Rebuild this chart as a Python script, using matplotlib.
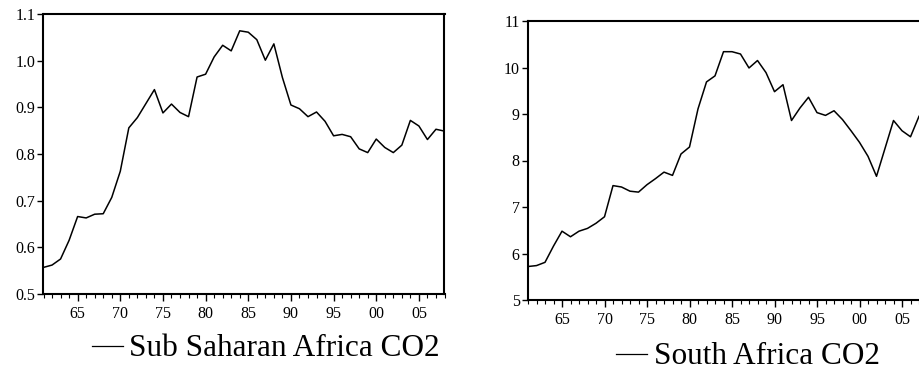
import matplotlib
matplotlib.use("Agg")
import matplotlib.pyplot as plt
from matplotlib.ticker import MultipleLocator, FuncFormatter

plt.rcParams['font.family'] = ['Liberation Serif', 'DejaVu Serif']

years_ssa = list(range(1961, 2009))
ssa_co2 = [0.557, 0.562, 0.575, 0.615, 0.666, 0.663, 0.671, 0.672, 0.707, 0.763,
           0.856, 0.878, 0.908, 0.938, 0.888, 0.907, 0.889, 0.880, 0.965, 0.971,
           1.008, 1.033, 1.021, 1.064, 1.061, 1.045, 1.001, 1.036, 0.964, 0.905,
           0.897, 0.880, 0.890, 0.870, 0.839, 0.842, 0.837, 0.811, 0.803, 0.832,
           0.814, 0.803, 0.819, 0.872, 0.860, 0.831, 0.853, 0.849]

years_za = list(range(1961, 2008))
za_co2 = [5.72, 5.74, 5.81, 6.16, 6.48, 6.36, 6.48, 6.54, 6.65, 6.79,
          7.46, 7.43, 7.34, 7.32, 7.48, 7.61, 7.75, 7.68, 8.14, 8.29,
          9.11, 9.69, 9.82, 10.34, 10.34, 10.29, 9.99, 10.15, 9.89, 9.48,
          9.63, 8.86, 9.13, 9.36, 9.03, 8.97, 9.07, 8.88, 8.64, 8.39,
          8.09, 7.66, 8.26, 8.86, 8.64, 8.51, 8.95]

ssa_ticks = [0.5, 0.6, 0.7, 0.8, 0.9, 1.0, 1.1]
za_ticks = [5, 6, 7, 8, 9, 10, 11]
ssa_label = "Sub Saharan Africa CO2"
za_label = "South Africa CO2"

fig = plt.figure(figsize=(9.2, 3.76), dpi=100)
ax1 = fig.add_axes([43.5/920, 1-294/376, 401/920, 280/376])
ax2 = fig.add_axes([528/920, 1-300/376, 399.5/920, 279/376])


def style(ax, yticks, fmt):
    ax.set_xlim(1961, 2008)
    ax.set_ylim(yticks[0], yticks[-1])
    ax.set_yticks(yticks)
    ax.yaxis.set_major_formatter(FuncFormatter(lambda v, p: fmt % v))
    ax.xaxis.set_major_locator(MultipleLocator(5))
    ax.xaxis.set_minor_locator(MultipleLocator(1))
    ax.xaxis.set_major_formatter(FuncFormatter(lambda v, p: "%02d" % (int(round(v)) % 100)))
    ax.tick_params(axis='x', which='major', direction='out', length=5, width=1, pad=4, labelsize=11.5)
    ax.tick_params(axis='x', which='minor', direction='out', length=3, width=0.8)
    ax.tick_params(axis='y', which='major', direction='out', length=4, width=1, pad=2, labelsize=11.5)
    for s in ax.spines.values():
        s.set_linewidth(1.5)


ax1.plot(years_ssa, ssa_co2, color='black', lw=1.1, label=ssa_label)
style(ax1, ssa_ticks, "%.1f")
ax2.plot(years_za, za_co2, color='black', lw=1.1, label=za_label)
style(ax2, za_ticks, "%d")

leg1 = ax1.legend(loc='center', bbox_to_anchor=(266/920, 1-349/376),
                  bbox_transform=fig.transFigure, frameon=False, fontsize=22.5,
                  handlelength=1.0, handletextpad=0.2, borderpad=0, borderaxespad=0)
leg2 = ax2.legend(loc='center', bbox_to_anchor=(748/920, 1-357/376),
                  bbox_transform=fig.transFigure, frameon=False, fontsize=22.5,
                  handlelength=1.0, handletextpad=0.2, borderpad=0, borderaxespad=0)
for leg in (leg1, leg2):
    for l in leg.get_lines():
        l.set_linewidth(0.9)

fig.savefig("out.png", dpi=100)
